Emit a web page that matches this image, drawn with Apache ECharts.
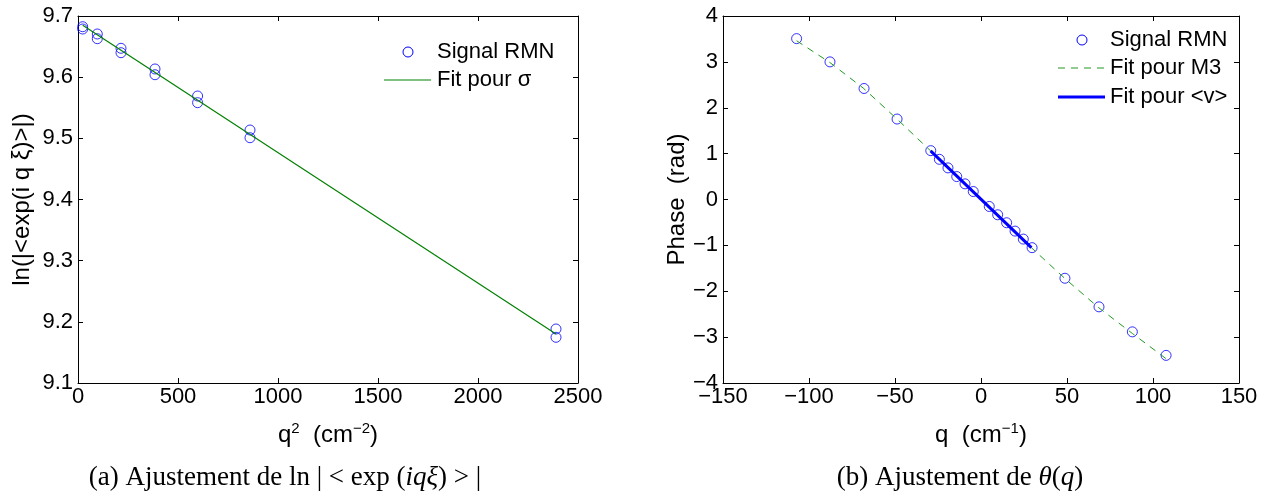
<!DOCTYPE html>
<html>
<head>
<meta charset="utf-8">
<script src="https://cdn.jsdelivr.net/npm/echarts@6/dist/echarts.min.js"></script>
<style>
html,body{margin:0;padding:0;background:#fff;}
#c{width:1266px;height:499px;}
</style>
</head>
<body>
<div id="c"></div>
<script>
// ---------- Data (a) ----------
const q2Values = [23.5, 96.5, 215, 385, 598, 860, 2390];
const lnSignalA = [9.6825, 9.6706, 9.6472, 9.6134, 9.5692, 9.5136, 9.1883];
const lnSignalB = [9.6787, 9.6629, 9.6400, 9.6040, 9.5583, 9.5010, 9.1747];
const fitSigmaQ2 = [23.5, 2390];
const fitSigmaLn = [9.685, 9.180];
const xTicksA = [0, 500, 1000, 1500, 2000, 2500];
const yTicksA = [9.1, 9.2, 9.3, 9.4, 9.5, 9.6, 9.7];

// ---------- Data (b) ----------
const qValues = [-107.2, -87.8, -68.0, -48.8, -29.2, -24.2, -19.2, -14.1, -9.3, -4.5,
                 4.8, 9.7, 14.9, 19.8, 24.6, 29.7, 48.8, 68.6, 88.0, 107.6];
const phaseValues = [3.507, 3.00, 2.42, 1.754, 1.065, 0.876, 0.689, 0.50, 0.341, 0.174,
                     -0.152, -0.333, -0.507, -0.689, -0.863, -1.05, -1.717, -2.34, -2.885, -3.398];
const fitM3Q = [-107.2, -88, -68.5, -49, -29.3, 0, 29.3, 49, 68.5, 88, 107.6];
const fitM3Phase = [3.46, 2.99, 2.43, 1.76, 1.06, 0.01, -1.05, -1.73, -2.36, -2.92, -3.47];
const fitVQ = [-29.3, 29.3];
const fitVPhase = [1.06, -1.05];
const xTicksB = [-150, -100, -50, 0, 50, 100, 150];
const yTicksB = [-4, -3, -2, -1, 0, 1, 2, 3, 4];

// legend labels
const legendA = ['Signal RMN', 'Fit pour \u03C3'];
const legendB = ['Signal RMN', 'Fit pour M3', 'Fit pour <v>'];

const zip = (a, b) => a.map((v, i) => [v, b[i]]);
const FONT = 'Liberation Sans, Arial, Helvetica, sans-serif';
const SERIF = 'Liberation Serif, Times New Roman, serif';
const TICK_FS = 22, TITLE_FS = 24, LEG_FS = 22, CAP_FS = 27;
const fmt = v => String(v).replace('-', '\u2212');

const BLUE = '#0000ff', GREEN = '#008000', DGREEN = '#229a22';

function axisBase(extra) {
  return Object.assign({
    type: 'value',
    splitLine: {show: false},
    axisLine: {show: true, onZero: false, lineStyle: {color: '#000', width: 1}},
    axisTick: {show: true, inside: true, length: 5, lineStyle: {color: '#000'}},
    axisLabel: {show: true, color: '#000', fontFamily: FONT, fontSize: TICK_FS},
    nameTextStyle: {color: '#000', fontFamily: FONT, fontSize: TITLE_FS}
  }, extra);
}
function mirror(extra) {
  const a = axisBase(extra);
  a.axisLabel = {show: false};
  a.name = '';
  return a;
}

const supRich = {
  b: {fontFamily: FONT, fontSize: TITLE_FS, lineHeight: 28, color: '#000'},
  s: {fontFamily: FONT, fontSize: 15, lineHeight: 15, verticalAlign: 'top', color: '#000'}
};

const xA = {gridIndex: 0, min: xTicksA[0], max: xTicksA[xTicksA.length - 1], interval: 500};
const yA = {gridIndex: 0, min: yTicksA[0], max: yTicksA[yTicksA.length - 1], interval: 0.1};
const xB = {gridIndex: 1, min: xTicksB[0], max: xTicksB[xTicksB.length - 1], interval: 50};
const yB = {gridIndex: 1, min: yTicksB[0], max: yTicksB[yTicksB.length - 1], interval: 1};

// legend drawn as graphic elements (layout only)
function legendText(t, x, y) {
  return {type: 'text', x: x, y: y, style: {text: t, fill: '#000', fontFamily: FONT, fontSize: LEG_FS, verticalAlign: 'middle', align: 'left'}};
}
const legendGraphics = [
  // (a)
  {type: 'circle', shape: {cx: 408, cy: 52, r: 5}, style: {fill: 'none', stroke: BLUE, lineWidth: 1}},
  legendText(legendA[0], 437, 52),
  {type: 'line', shape: {x1: 384, y1: 80, x2: 431, y2: 80}, style: {stroke: GREEN, lineWidth: 1.2}},
  legendText(legendA[1], 437, 80),
  // (b)
  {type: 'circle', shape: {cx: 1082, cy: 40, r: 5}, style: {fill: 'none', stroke: BLUE, lineWidth: 1}},
  legendText(legendB[0], 1110, 40),
  {type: 'line', shape: {x1: 1058, y1: 68, x2: 1105, y2: 68}, style: {stroke: DGREEN, lineWidth: 1, lineDash: [7, 6]}},
  legendText(legendB[1], 1110, 68),
  {type: 'line', shape: {x1: 1058, y1: 97, x2: 1105, y2: 97}, style: {stroke: BLUE, lineWidth: 3}},
  legendText(legendB[2], 1110, 97)
];

const capRich = {
  r: {fontFamily: SERIF, fontSize: CAP_FS, fill: '#000'},
  i: {fontFamily: SERIF, fontSize: CAP_FS, fontStyle: 'italic', fill: '#000'}
};

const option = {
  backgroundColor: '#fff',
  animation: false,
  grid: [
    {left: 78, right: 688, top: 16, bottom: 116, outerBoundsMode: 'none', containLabel: false},
    {left: 723, right: 27, top: 16, bottom: 116, outerBoundsMode: 'none', containLabel: false}
  ],
  xAxis: [
    axisBase(Object.assign({}, xA, {position: 'bottom',
      axisLabel: {color: '#000', fontFamily: FONT, fontSize: TICK_FS, margin: 3, formatter: fmt},
      name: '{b|q}{s|2}{b|  (cm}{s|\u22122}{b|)}', nameLocation: 'middle', nameGap: 38,
      nameTextStyle: {rich: supRich}})),
    mirror(Object.assign({}, xA, {position: 'top'})),
    axisBase(Object.assign({}, xB, {position: 'bottom',
      axisLabel: {color: '#000', fontFamily: FONT, fontSize: TICK_FS, margin: 3, formatter: fmt},
      name: '{b|q  (cm}{s|\u22121}{b|)}', nameLocation: 'middle', nameGap: 38,
      nameTextStyle: {rich: supRich}})),
    mirror(Object.assign({}, xB, {position: 'top'}))
  ],
  yAxis: [
    axisBase(Object.assign({}, yA, {position: 'left',
      axisLabel: {color: '#000', fontFamily: FONT, fontSize: TICK_FS, margin: 5, formatter: v => v.toFixed(1)},
      name: 'ln(|<exp(i q \u03BE)>|)', nameLocation: 'middle', nameGap: 44,
      nameTextStyle: {color: '#000', fontFamily: FONT, fontSize: TITLE_FS}})),
    mirror(Object.assign({}, yA, {position: 'right'})),
    axisBase(Object.assign({}, yB, {position: 'left',
      axisLabel: {color: '#000', fontFamily: FONT, fontSize: TICK_FS, margin: 5, formatter: fmt},
      name: 'Phase  (rad)', nameLocation: 'middle', nameGap: 33,
      nameTextStyle: {color: '#000', fontFamily: FONT, fontSize: TITLE_FS}})),
    mirror(Object.assign({}, yB, {position: 'right'}))
  ],
  series: [
    {name: legendA[0], type: 'scatter', xAxisIndex: 0, yAxisIndex: 0, symbol: 'circle', symbolSize: 10,
     itemStyle: {color: 'transparent', borderColor: BLUE, borderWidth: 1}, data: zip(q2Values, lnSignalA), z: 2},
    {name: legendA[0], type: 'scatter', xAxisIndex: 0, yAxisIndex: 0, symbol: 'circle', symbolSize: 10,
     itemStyle: {color: 'transparent', borderColor: BLUE, borderWidth: 1}, data: zip(q2Values, lnSignalB), z: 2},
    {name: legendA[1], type: 'line', xAxisIndex: 0, yAxisIndex: 0, showSymbol: false, symbol: 'none',
     lineStyle: {color: GREEN, width: 1.2}, data: zip(fitSigmaQ2, fitSigmaLn), z: 3},

    {name: legendB[0], type: 'scatter', xAxisIndex: 2, yAxisIndex: 2, symbol: 'circle', symbolSize: 10,
     itemStyle: {color: 'transparent', borderColor: BLUE, borderWidth: 1}, data: zip(qValues, phaseValues), z: 2},
    {name: legendB[1], type: 'line', xAxisIndex: 2, yAxisIndex: 2, showSymbol: false, symbol: 'none',
     lineStyle: {color: DGREEN, width: 1, type: [7, 6]}, data: zip(fitM3Q, fitM3Phase), z: 3},
    {name: legendB[2], type: 'line', xAxisIndex: 2, yAxisIndex: 2, showSymbol: false, symbol: 'none',
     lineStyle: {color: BLUE, width: 3}, data: zip(fitVQ, fitVPhase), z: 4}
  ],
  graphic: legendGraphics.concat([
    {type: 'text', x: 285, y: 478, style: {
      text: '{r|(a) Ajustement de ln | < exp (}{i|iq\u03BE}{r|) > |}',
      align: 'center', verticalAlign: 'middle', rich: capRich}},
    {type: 'text', x: 960, y: 478, style: {
      text: '{r|(b) Ajustement de }{i|\u03B8}{r|(}{i|q}{r|)}',
      align: 'center', verticalAlign: 'middle', rich: capRich}}
  ])
};

const chart = echarts.init(document.getElementById('c'), null, {renderer: 'canvas'});
chart.setOption(option);
</script>
</body>
</html>
